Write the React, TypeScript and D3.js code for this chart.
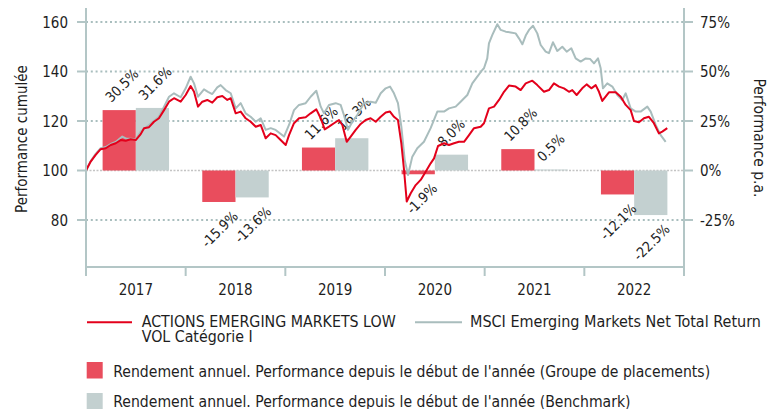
import React from "react";
import * as d3 from "d3";

const years = [2017, 2018, 2019, 2020, 2021, 2022];
const fundReturns = [30.5, -15.9, 11.6, -1.9, 10.8, -12.1];
const benchReturns = [31.6, -13.6, 16.3, 8.0, 0.5, -22.5];
const fundLabels = ["30.5%", "-15.9%", "11.6%", "-1.9%", "10.8%", "-12.1%"];
const benchLabels = ["31.6%", "-13.6%", "16.3%", "8.0%", "0.5%", "-22.5%"];
const leftTicks = [80, 100, 120, 140, 160];
const rightTicks = [-25, 0, 25, 50, 75];

// [decimal year, cumulative performance]
const fundSeries: [number, number][] = [
  [2017.0, 100], [2017.047, 103.6], [2017.097, 106.3], [2017.147, 108.6], [2017.198, 109.0],
  [2017.248, 110.3], [2017.298, 111.0], [2017.348, 112.3], [2017.398, 112.0], [2017.448, 112.6],
  [2017.499, 112.3], [2017.549, 114.7], [2017.582, 117.1], [2017.632, 117.5], [2017.682, 119.7],
  [2017.732, 121.1], [2017.783, 124.4], [2017.833, 127.8], [2017.883, 129.2], [2017.95, 127.8],
  [2018.0, 130.5], [2018.05, 134.1], [2018.084, 131.8], [2018.124, 125.8], [2018.167, 127.8],
  [2018.217, 128.5], [2018.267, 127.4], [2018.317, 129.6], [2018.368, 130.1], [2018.418, 128.5],
  [2018.452, 129.2], [2018.502, 123.1], [2018.552, 123.8], [2018.602, 121.1], [2018.652, 119.7],
  [2018.703, 117.7], [2018.753, 118.4], [2018.803, 113.0], [2018.853, 115.0], [2018.903, 114.3],
  [2018.953, 112.3], [2019.004, 110.3], [2019.037, 114.3], [2019.087, 119.1], [2019.137, 121.1],
  [2019.204, 121.5], [2019.254, 123.1], [2019.311, 124.7], [2019.355, 121.1], [2019.395, 116.6],
  [2019.438, 117.7], [2019.488, 119.1], [2019.538, 120.4], [2019.572, 118.4], [2019.616, 111.6],
  [2019.656, 113.7], [2019.706, 116.4], [2019.756, 118.8], [2019.806, 120.4], [2019.856, 121.1],
  [2019.907, 119.7], [2019.957, 121.7], [2020.007, 123.4], [2020.05, 123.8], [2020.09, 121.7],
  [2020.13, 120.4], [2020.164, 111.0], [2020.191, 100.2], [2020.218, 87.5], [2020.258, 90.8],
  [2020.308, 94.1], [2020.358, 96.2], [2020.408, 99.5], [2020.458, 102.9], [2020.492, 104.9],
  [2020.532, 109.9], [2020.592, 111.0], [2020.642, 110.3], [2020.692, 111.0], [2020.742, 111.6],
  [2020.793, 111.6], [2020.843, 114.3], [2020.893, 117.1], [2020.96, 117.7], [2020.993, 119.1],
  [2021.043, 125.1], [2021.094, 125.8], [2021.144, 128.5], [2021.194, 131.8], [2021.244, 134.3],
  [2021.311, 133.9], [2021.361, 132.5], [2021.412, 135.2], [2021.478, 136.3], [2021.528, 134.5],
  [2021.595, 131.8], [2021.645, 132.5], [2021.695, 135.2], [2021.746, 133.9], [2021.796, 133.2],
  [2021.846, 131.8], [2021.879, 132.5], [2021.923, 130.5], [2021.979, 133.2], [2022.023, 134.8],
  [2022.07, 133.2], [2022.114, 134.5], [2022.147, 131.8], [2022.18, 128.1], [2022.247, 131.6],
  [2022.315, 131.6], [2022.365, 129.8], [2022.415, 126.5], [2022.465, 124.4], [2022.498, 120.0],
  [2022.548, 119.5], [2022.598, 121.1], [2022.648, 121.7], [2022.698, 119.1], [2022.748, 115.0],
  [2022.782, 115.7], [2022.832, 117.1],
];

const benchSeries: [number, number][] = [
  [2017.0, 100], [2017.047, 103.8], [2017.097, 106.7], [2017.147, 109.0], [2017.198, 109.5],
  [2017.248, 110.7], [2017.298, 111.5], [2017.364, 113.7], [2017.408, 112.8], [2017.448, 112.8],
  [2017.499, 112.6], [2017.549, 115.7], [2017.632, 118.4], [2017.732, 121.7], [2017.783, 125.8],
  [2017.833, 129.8], [2017.883, 131.2], [2017.95, 129.6], [2018.0, 133.2], [2018.05, 137.9],
  [2018.084, 135.2], [2018.124, 129.8], [2018.184, 132.8], [2018.224, 131.8], [2018.267, 130.9],
  [2018.317, 133.6], [2018.351, 134.5], [2018.401, 132.5], [2018.452, 131.2], [2018.502, 125.1],
  [2018.552, 127.2], [2018.602, 123.1], [2018.652, 121.7], [2018.703, 119.7], [2018.753, 121.1],
  [2018.803, 116.4], [2018.853, 117.1], [2018.903, 116.4], [2018.987, 113.7], [2019.037, 118.4],
  [2019.087, 124.4], [2019.137, 126.5], [2019.204, 127.2], [2019.254, 129.8], [2019.311, 132.2],
  [2019.355, 125.8], [2019.388, 123.1], [2019.438, 126.5], [2019.505, 127.2], [2019.555, 126.5],
  [2019.588, 122.4], [2019.629, 116.4], [2019.672, 119.7], [2019.722, 122.4], [2019.789, 127.2],
  [2019.856, 127.8], [2019.907, 127.4], [2019.957, 131.2], [2020.007, 133.2], [2020.05, 133.9],
  [2020.09, 131.2], [2020.13, 127.2], [2020.164, 117.7], [2020.198, 104.2], [2020.231, 98.2],
  [2020.274, 105.6], [2020.324, 109.0], [2020.391, 111.6], [2020.458, 117.1], [2020.525, 123.8],
  [2020.592, 123.8], [2020.642, 125.1], [2020.709, 125.8], [2020.759, 127.8], [2020.826, 130.5],
  [2020.876, 135.2], [2020.926, 137.9], [2020.976, 140.6], [2020.993, 141.3], [2021.026, 145.3],
  [2021.043, 151.4], [2021.076, 154.7], [2021.127, 159.1], [2021.161, 156.8], [2021.211, 156.1],
  [2021.261, 155.8], [2021.311, 155.4], [2021.344, 153.4], [2021.378, 151.0], [2021.412, 154.5],
  [2021.445, 156.8], [2021.485, 158.5], [2021.528, 155.4], [2021.562, 150.7], [2021.612, 148.0],
  [2021.645, 147.4], [2021.685, 151.8], [2021.729, 148.3], [2021.779, 150.0], [2021.823, 148.0],
  [2021.869, 149.4], [2021.913, 145.3], [2021.963, 144.0], [2022.014, 145.3], [2022.057, 145.1],
  [2022.097, 143.3], [2022.137, 145.3], [2022.164, 141.3], [2022.187, 133.2], [2022.23, 135.2],
  [2022.281, 133.9], [2022.331, 130.5], [2022.381, 128.5], [2022.415, 131.2], [2022.465, 125.1],
  [2022.515, 123.8], [2022.565, 123.8], [2022.632, 125.8], [2022.666, 123.8], [2022.716, 118.4],
  [2022.766, 114.3], [2022.816, 111.6],
];

const legendLines = [
  "ACTIONS EMERGING MARKETS LOW",
  "VOL Catégorie I",
  "MSCI Emerging Markets Net Total Return",
];
const legendBars = [
  "Rendement annuel. Performance depuis le début de l'année (Groupe de placements)",
  "Rendement annuel. Performance depuis le début de l'année (Benchmark)",
];

const RED_LINE = "#e3001b";
const GREY_LINE = "#a9bdbd";
const RED_BAR = "#e94d5d";
const GREY_BAR = "#c3d0d0";
const AXIS = "#b3c6c6";
const TEXT = "#1e1e1e";
const FONT = "'DejaVu Sans Condensed', 'DejaVu Sans', sans-serif";

export default function App() {
  const W = 776;
  const H = 409;
  const x = d3.scaleLinear().domain([2017, 2023]).range([86, 684]);
  const yL = d3.scaleLinear().domain([80, 160]).range([220, 22]);
  const yR = d3.scaleLinear().domain([-25, 75]).range([220, 22]);
  const top = 8;
  const bottom = 267;
  const yearW = x(2018) - x(2017);
  const barW = yearW / 3;

  const line = d3
    .line<[number, number]>()
    .x((d) => x(d[0]))
    .y((d) => yL(d[1]));

  const fontStyle: React.CSSProperties = { fontFamily: FONT, fontStretch: "condensed" };

  return (
    <svg
      width={W}
      height={H}
      style={{ position: "absolute", left: 0, top: 0, background: "#fff", ...fontStyle }}
    >
      {/* grid */}
      {leftTicks.map((t) => (
        <line
          key={"g" + t}
          x1={x(2017)}
          x2={x(2023)}
          y1={yL(t)}
          y2={yL(t)}
          stroke={t === 100 ? "#c4c4c4" : "#a9bebe"}
          strokeWidth={t === 100 ? 1.5 : 2}
          strokeDasharray={t === 100 ? "2 1.5" : "2 2.8"}
        />
      ))}

      {/* bars */}
      {years.map((yr, i) => {
        const c = x(yr + 0.5);
        const f = fundReturns[i];
        const b = benchReturns[i];
        return (
          <g key={"b" + yr}>
            <rect
              x={c - barW}
              width={barW}
              y={Math.min(yR(f), yR(0))}
              height={Math.abs(yR(f) - yR(0))}
              fill={RED_BAR}
            />
            <rect
              x={c}
              width={barW}
              y={Math.min(yR(b), yR(0))}
              height={Math.abs(yR(b) - yR(0))}
              fill={GREY_BAR}
            />
          </g>
        );
      })}

      {/* bar labels */}
      {years.map((yr, i) => {
        const c = x(yr + 0.5);
        const items = [
          { v: fundReturns[i], label: fundLabels[i], cx: c - barW / 2 },
          { v: benchReturns[i], label: benchLabels[i], cx: c + barW / 2 },
        ];
        return items.map((it, j) => {
          if (it.v >= 0) {
            const px = it.cx - 8;
            const py = yR(it.v) - 7;
            return (
              <text
                key={"l" + yr + j}
                transform={`translate(${px},${py}) rotate(-45)`}
                fontSize={14}
                fill={TEXT}
                textAnchor="start"
              >
                {it.label}
              </text>
            );
          }
          const px = it.cx + 20;
          const py = yR(it.v) + 15;
          return (
            <text
              key={"l" + yr + j}
              transform={`translate(${px},${py}) rotate(-45)`}
              fontSize={14}
              fill={TEXT}
              textAnchor="end"
            >
              {it.label}
            </text>
          );
        });
      })}

      {/* lines */}
      <path d={line(benchSeries) || ""} fill="none" stroke={GREY_LINE} strokeWidth={2} strokeLinejoin="round" />
      <path d={line(fundSeries) || ""} fill="none" stroke={RED_LINE} strokeWidth={2} strokeLinejoin="round" />

      {/* axes */}
      <line x1={x(2017)} x2={x(2017)} y1={top} y2={bottom + 9} stroke={AXIS} strokeWidth={2} />
      <line x1={x(2023)} x2={x(2023)} y1={top} y2={bottom + 9} stroke={AXIS} strokeWidth={2} />
      <line x1={x(2017) - 1} x2={x(2023) + 1} y1={bottom} y2={bottom} stroke={AXIS} strokeWidth={2} />
      {d3.range(2017, 2024).map((yr) => (
        <line key={"xt" + yr} x1={x(yr)} x2={x(yr)} y1={bottom} y2={bottom + 9} stroke={AXIS} strokeWidth={2} />
      ))}
      {years.map((yr) => (
        <text key={"xl" + yr} x={x(yr + 0.5)} y={295} fontSize={15} fill={TEXT} textAnchor="middle">
          {yr}
        </text>
      ))}
      {leftTicks.map((t) => (
        <g key={"lt" + t}>
          <line x1={x(2017) - 9} x2={x(2017)} y1={yL(t)} y2={yL(t)} stroke={AXIS} strokeWidth={2} />
          <text x={68} y={yL(t) + 5.5} fontSize={15} fill={TEXT} textAnchor="end">
            {t}
          </text>
        </g>
      ))}
      {rightTicks.map((t) => (
        <g key={"rt" + t}>
          <line x1={x(2023)} x2={x(2023) + 9} y1={yR(t)} y2={yR(t)} stroke={AXIS} strokeWidth={2} />
          <text x={700} y={yR(t) + 5.5} fontSize={15} fill={TEXT} textAnchor="start">
            {t}%
          </text>
        </g>
      ))}
      <text transform="translate(26.5,139) rotate(-90)" fontSize={15} fill={TEXT} textAnchor="middle">
        Performance cumulée
      </text>
      <text transform="translate(754,138) rotate(90)" fontSize={15.5} fill={TEXT} textAnchor="middle">
        Performance p.a.
      </text>

      {/* legend */}
      <line x1={87} x2={132} y1={322.3} y2={322.3} stroke={RED_LINE} strokeWidth={2} />
      <text x={141.7} y={327.3} fontSize={15.8} fill={TEXT}>
        {legendLines[0]}
      </text>
      <text x={141.7} y={342.3} fontSize={15.8} fill={TEXT}>
        {legendLines[1]}
      </text>
      <line x1={415} x2={462} y1={322.3} y2={322.3} stroke={GREY_LINE} strokeWidth={2} />
      <text x={470} y={327.3} fontSize={16} fill={TEXT}>
        {legendLines[2]}
      </text>
      <rect x={86.7} y={362} width={16} height={16.5} fill={RED_BAR} />
      <text x={113.3} y={376.7} fontSize={15.6} fill={TEXT}>
        {legendBars[0]}
      </text>
      <rect x={86.7} y={393} width={16} height={16.5} fill={GREY_BAR} />
      <text x={113.3} y={407.2} fontSize={15.6} fill={TEXT}>
        {legendBars[1]}
      </text>
    </svg>
  );
}
